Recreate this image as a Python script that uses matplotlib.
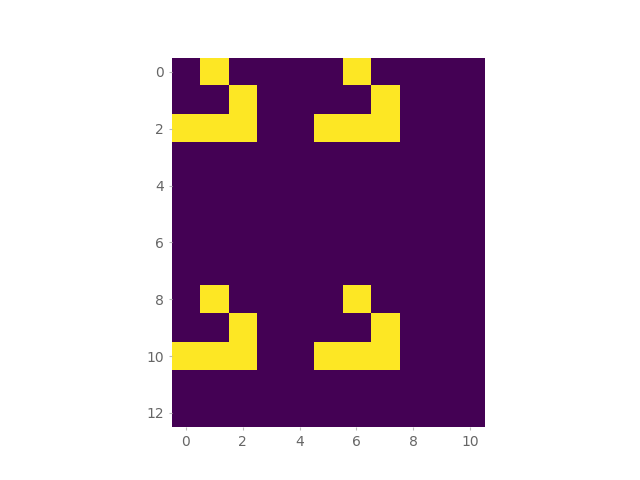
import numpy as np
import matplotlib
matplotlib.use('Agg')
import matplotlib.pyplot as plt

# Tablero 13x11 con dos pares de planeadores (glider)
n_rows = 13
n_cols = 11
live_cells = [
    (0, 1), (1, 2), (2, 0), (2, 1), (2, 2),
    (0, 6), (1, 7), (2, 5), (2, 6), (2, 7),
    (8, 1), (9, 2), (10, 0), (10, 1), (10, 2),
    (8, 6), (9, 7), (10, 5), (10, 6), (10, 7),
]

grid = np.zeros((n_rows, n_cols))
for r, c in live_cells:
    grid[r, c] = 1

fig, ax = plt.subplots(figsize=(6.4, 4.8), dpi=100)
ax.imshow(grid, cmap='viridis', interpolation='nearest')

for s in ax.spines.values():
    s.set_visible(False)
ax.tick_params(colors='#bbbbbb', labelcolor='#666666', length=2)

plt.savefig('out.png')
